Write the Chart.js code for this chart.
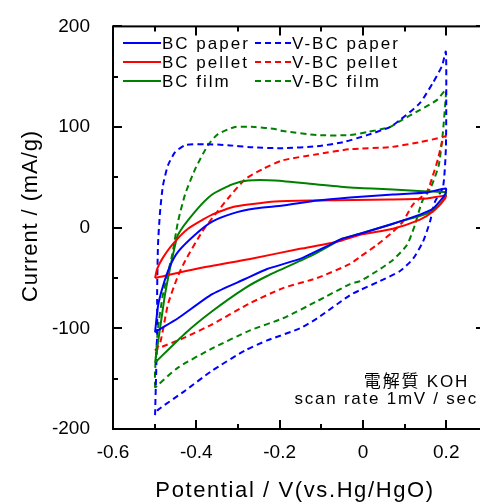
<!DOCTYPE html>
<html>
<head>
<meta charset="utf-8">
<script src="https://cdn.jsdelivr.net/npm/chart.js@4"></script>
<style>
  html, body { margin: 0; padding: 0; overflow: hidden; background: #fff; }
  #wrap { width: 490px; height: 503px; }
</style>
</head>
<body>
<div id="wrap"><canvas id="cv-chart" width="490" height="503"></canvas></div>
<script>
// cv-chart - cyclic voltammograms, BC vs V-BC electrodes

// ── Data: [potential V, current mA/g], anodic sweep then cathodic ──

const bcPaper = [
  [-0.499, -104], [-0.492, -78], [-0.480, -58], [-0.463, -38], [-0.444, -24],
  [-0.403, -7], [-0.362, 6], [-0.314, 14], [-0.259, 19], [-0.192, 22],
  [-0.110, 27], [-0.031, 30], [0.072, 33], [0.154, 35], [0.199, 39],
  [0.197, 33], [0.168, 19], [0.137, 13], [0.072, 4], [-0.007, -6],
  [-0.050, -11], [-0.085, -18], [-0.120, -25], [-0.151, -31], [-0.230, -41], [-0.283, -51],
  [-0.362, -66], [-0.444, -90], [-0.492, -102], [-0.499, -104],
];
const bcPellet = [
  [-0.499, -50], [-0.494, -41], [-0.482, -31], [-0.458, -17], [-0.420, -1],
  [-0.362, 13], [-0.307, 21], [-0.211, 26], [-0.110, 27], [0.065, 28],
  [0.154, 29], [0.199, 32], [0.197, 29], [0.168, 16], [0.137, 8],
  [0.072, -1], [-0.007, -7], [-0.062, -14], [-0.151, -21], [-0.271, -31],
  [-0.391, -40], [-0.499, -50],
];
const bcFilm = [
  [-0.499, -134], [-0.487, -100], [-0.475, -66], [-0.463, -40], [-0.456, -27],
  [-0.444, -7], [-0.403, 16], [-0.362, 33], [-0.314, 43], [-0.276, 47],
  [-0.211, 47], [-0.110, 43], [-0.031, 40], [0.072, 38], [0.154, 36],
  [0.199, 35], [0.197, 31], [0.185, 23], [0.154, 14], [0.096, 7],
  [0.065, 3], [-0.007, -6], [-0.050, -11], [-0.085, -19], [-0.120, -27],
  [-0.151, -33], [-0.230, -48], [-0.283, -60], [-0.362, -83], [-0.427, -105],
  [-0.499, -134],
];
const vbcPaper = [
  [-0.499, -186], [-0.494, -102], [-0.494, -63], [-0.492, -17], [-0.487, 16],
  [-0.480, 42], [-0.468, 62], [-0.451, 75], [-0.427, 82], [-0.379, 83],
  [-0.324, 82], [-0.271, 80], [-0.192, 79], [-0.110, 81], [-0.048, 85],
  [0.010, 92], [0.065, 100], [0.089, 107], [0.137, 124], [0.168, 144],
  [0.190, 161], [0.199, 175], [0.200, 127], [0.199, 78], [0.192, 40],
  [0.173, 26], [0.161, 6], [0.144, -14], [0.120, -31], [0.089, -43],
  [0.041, -53], [-0.007, -62], [-0.031, -67], [-0.110, -90], [-0.151, -100],
  [-0.230, -112], [-0.283, -122], [-0.362, -142], [-0.427, -162], [-0.492, -181],
  [-0.499, -186],
];
const vbcPellet = [
  [-0.499, -122], [-0.487, -115], [-0.468, -76], [-0.446, -50], [-0.427, -33],
  [-0.386, -4], [-0.355, 13], [-0.324, 29], [-0.283, 48], [-0.242, 58],
  [-0.192, 67], [-0.110, 73], [-0.031, 78], [0.065, 80], [0.137, 85],
  [0.192, 90], [0.199, 91], [0.190, 85], [0.180, 68], [0.168, 52],
  [0.154, 36], [0.120, 23], [0.096, 6], [0.072, -4], [0.034, -17],
  [-0.007, -29], [-0.031, -36], [-0.110, -50], [-0.192, -60], [-0.271, -75],
  [-0.362, -96], [-0.427, -109], [-0.492, -120], [-0.499, -122],
];
const vbcFilm = [
  [-0.499, -159], [-0.499, -142], [-0.492, -100], [-0.480, -66], [-0.458, -27],
  [-0.444, 6], [-0.427, 33], [-0.403, 58], [-0.372, 82], [-0.348, 93],
  [-0.307, 100], [-0.259, 100], [-0.211, 98], [-0.192, 96], [-0.110, 92],
  [-0.031, 92], [0.010, 95], [0.065, 100], [0.089, 106], [0.137, 117],
  [0.178, 127], [0.192, 134], [0.199, 137], [0.199, 131], [0.192, 95],
  [0.182, 62], [0.163, 40], [0.142, 26], [0.125, 3], [0.106, -17],
  [0.072, -32], [0.034, -43], [-0.007, -53], [-0.031, -56], [-0.110, -73],
  [-0.192, -90], [-0.271, -102], [-0.362, -120], [-0.444, -139], [-0.494, -157],
  [-0.499, -159],
];

// ── Axes ─────────────────────────────────────────────────────

const xTicks = [-0.6, -0.4, -0.2, 0, 0.2];
const xMinor = [-0.5, -0.3, -0.1, 0.1];
const yTicks = [-200, -100, 0, 100, 200];
const yMinor = [-150, -50, 50, 150];

const xTitle = "Potential / V(vs.Hg/HgO)";
const yTitle = "Current / (mA/g)";
const noteLines = ["電解質 KOH", "scan rate 1mV / sec"];

const FONT = '"Liberation Sans", Arial, "Noto Sans CJK JP", sans-serif';
const BLUE = "#0000ff";
const RED = "#ff0000";
const GREEN = "#008000";
const DASH = [6, 4];

const toXY = (pts) => pts.map(([v, i]) => ({ x: v, y: i }));

function series(label, pts, color, dashed) {
  return {
    label,
    data: toXY(pts),
    borderColor: color,
    borderWidth: 2,
    borderDash: dashed ? DASH : [],
    showLine: true,
    pointRadius: 0,
    tension: 0.2,
    order: dashed ? 2 : 1,
  };
}

// ── Frame, inward ticks, legend and notes ────────────────────

function spacedText(ctx, text, x, y, spacing) {
  ctx.letterSpacing = spacing + "px";
  ctx.fillText(text, x, y);
  ctx.letterSpacing = "0px";
}

const decorPlugin = {
  id: "decor",
  afterDraw(chart) {
    const { ctx, chartArea: a, scales } = chart;
    const sx = scales.x;
    const sy = scales.y;
    ctx.save();
    ctx.strokeStyle = "#000";
    ctx.lineWidth = 2;
    ctx.strokeRect(a.left, a.top, a.right - a.left, a.bottom - a.top);

    const xMark = (vals, len) => vals.forEach((v) => {
      const px = Math.round(sx.getPixelForValue(v));
      ctx.beginPath();
      ctx.moveTo(px, a.bottom); ctx.lineTo(px, a.bottom - len);
      ctx.moveTo(px, a.top); ctx.lineTo(px, a.top + len);
      ctx.stroke();
    });
    const yMark = (vals, len) => vals.forEach((v) => {
      const py = Math.round(sy.getPixelForValue(v));
      ctx.beginPath();
      ctx.moveTo(a.left, py); ctx.lineTo(a.left + len, py);
      ctx.moveTo(a.right, py); ctx.lineTo(a.right - len, py);
      ctx.stroke();
    });
    xMark(xTicks, 9); xMark(xMinor, 5);
    yMark(yTicks, 9); yMark(yMinor, 5);

    // legend: two columns, solid then dashed
    ctx.fillStyle = "#000";
    ctx.textBaseline = "middle";
    ctx.textAlign = "left";
    ctx.font = "17px " + FONT;
    const rows = [43, 62, 81];
    const cols = [{ x0: 123, x1: 161 }, { x0: 255, x1: 291 }];
    chart.data.datasets.forEach((ds, i) => {
      const col = cols[i < 3 ? 0 : 1];
      const y = rows[i % 3];
      ctx.strokeStyle = ds.borderColor;
      ctx.lineWidth = 2;
      ctx.setLineDash(ds.borderDash);
      ctx.beginPath();
      ctx.moveTo(col.x0, y); ctx.lineTo(col.x1, y);
      ctx.stroke();
      ctx.setLineDash([]);
      spacedText(ctx, ds.label, col.x1 + 1, y + 1, 2);
    });

    // electrolyte / scan rate note
    ctx.textAlign = "right";
    ctx.textBaseline = "alphabetic";
    ctx.font = "17px " + FONT;
    spacedText(ctx, noteLines[0], 469, 387, 1.8);
    spacedText(ctx, noteLines[1], 478, 404, 1.75);

    // axis titles
    ctx.textAlign = "center";
    ctx.font = "22px " + FONT;
    spacedText(ctx, xTitle, 295, 497, 1.6);
    ctx.translate(37, 216);
    ctx.rotate(-Math.PI / 2);
    spacedText(ctx, yTitle, 0, 0, 0.9);
    ctx.restore();
  },
};

new Chart(document.getElementById("cv-chart"), {
  type: "scatter",
  data: {
    datasets: [
      series("BC paper", bcPaper, BLUE, false),
      series("BC pellet", bcPellet, RED, false),
      series("BC film", bcFilm, GREEN, false),
      series("V-BC paper", vbcPaper, BLUE, true),
      series("V-BC pellet", vbcPellet, RED, true),
      series("V-BC film", vbcFilm, GREEN, true),
    ],
  },
  options: {
    responsive: false,
    animation: false,
    devicePixelRatio: 1,
    layout: { padding: { top: 23, right: 5, left: 0, bottom: 0 } },
    plugins: { legend: { display: false }, tooltip: { enabled: false } },
    scales: {
      x: {
        min: -0.6,
        max: 0.293,
        afterBuildTicks: (s) => { s.ticks = xTicks.map((v) => ({ value: v })); },
        afterFit: (s) => { s.height = 74; },
        grid: { display: false },
        border: { display: false },
        ticks: {
          color: "#000",
          padding: 4,
          maxRotation: 0,
          font: { family: FONT, size: 19 },
          callback: (v) => String(Math.round(v * 10) / 10),
        },
      },
      y: {
        min: -200,
        max: 200,
        afterBuildTicks: (s) => { s.ticks = yTicks.map((v) => ({ value: v })); },
        afterFit: (s) => { s.width = 113; },
        grid: { display: false },
        border: { display: false },
        ticks: {
          color: "#000",
          padding: 15,
          font: { family: FONT, size: 19 },
        },
      },
    },
  },
  plugins: [decorPlugin],
});
</script>
</body>
</html>
